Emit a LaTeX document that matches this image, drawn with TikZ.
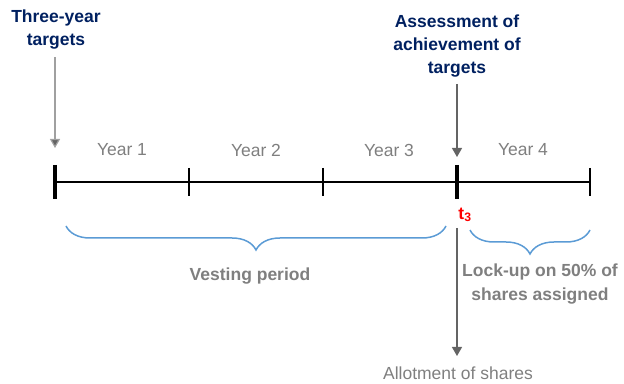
\documentclass[tikz,border=0pt]{standalone}
\usepackage{fontspec}
\setmainfont{Liberation Sans}
\usetikzlibrary{decorations.pathreplacing,arrows.meta}
\definecolor{dblue}{RGB}{0,32,96}
\definecolor{tgray}{RGB}{127,127,127}
\definecolor{agray}{RGB}{100,100,100}
\definecolor{lgray}{RGB}{160,160,160}
\definecolor{bblue}{RGB}{91,155,213}
\begin{document}
\begin{tikzpicture}[x=1pt,y=1pt,
  title/.style={font=\fontsize{17.5}{23}\selectfont\bfseries, text=dblue, align=center, inner sep=0pt},
  yearlbl/.style={font=\fontsize{17.5}{21}\selectfont, text=tgray, inner sep=0pt},
  boldlbl/.style={font=\fontsize{17.5}{24}\selectfont\bfseries, text=tgray, align=center, inner sep=0pt},
  thicktick/.style={line width=4pt},
  thintick/.style={line width=1.2pt},
  arr/.style={line width=1.2pt, -{Triangle[width=10pt,length=9pt]}},
  bracestyle/.style={draw=bblue, line width=1.5pt, decorate, decoration={brace, amplitude=24pt}}
]
\useasboundingbox (0,0) rectangle (624,383);
% timeline
\coordinate (t0) at (55,201);
\coordinate (t1) at (189,201);
\coordinate (t2) at (323,201);
\coordinate (t3) at (457,201);
\coordinate (t4) at (590,201);
\draw[line width=2pt] (t0) -- (t4);
\draw[thicktick] ([yshift=17pt]t0) -- ([yshift=-17pt]t0);
\draw[thicktick] ([yshift=17pt]t3) -- ([yshift=-17pt]t3);
\draw[thintick] ([yshift=14pt]t1) -- ([yshift=-14pt]t1);
\draw[thintick] ([yshift=14pt]t2) -- ([yshift=-14pt]t2);
\draw[thintick] ([yshift=14pt]t4) -- ([yshift=-14pt]t4);
% year labels
\node[yearlbl] (y1) at (122,233) {Year 1};
\node[yearlbl] (y2) at (256,233) {Year 2};
\node[yearlbl] (y3) at (389,233) {Year 3};
\node[yearlbl] (y4) at (523,233) {Year 4};
% top titles
\node[title] (three) at (56,353) {Three-year\\targets};
\node[title] (assess) at (457,337) {Assessment of\\achievement of\\targets};
\coordinate (a1end) at (55,235);
\coordinate (a2end) at (457,226);
\draw[arr, draw=lgray, -{Triangle[width=10pt,length=9pt,fill=agray]}] (55,326) -- (a1end);
\draw[arr, draw=agray] (457,299) -- (a2end);
% t3
\node[text=red, font=\fontsize{17.5}{20}\selectfont\bfseries, inner sep=0pt] (t3lbl) at (465,168) {t\textsubscript{3}};
% allotment
\node[yearlbl, anchor=base] (allot) at (458,4) {Allotment of shares};
\coordinate (allotend) at (457,27);
\draw[arr, draw=agray] (457,155) -- (allotend);
% braces
\coordinate (vb1) at (446,157);
\coordinate (vb2) at (66,157);
\draw[bracestyle] (vb1) -- (vb2);
\coordinate (lb1) at (590,153);
\coordinate (lb2) at (470,153);
\draw[bracestyle] (lb1) -- (lb2);
\node[boldlbl] (vest) at (250,107) {Vesting period};
\node[boldlbl] (lock) at (540,99) {Lock-up on 50\% of\\shares assigned};
\end{tikzpicture}
\end{document}
